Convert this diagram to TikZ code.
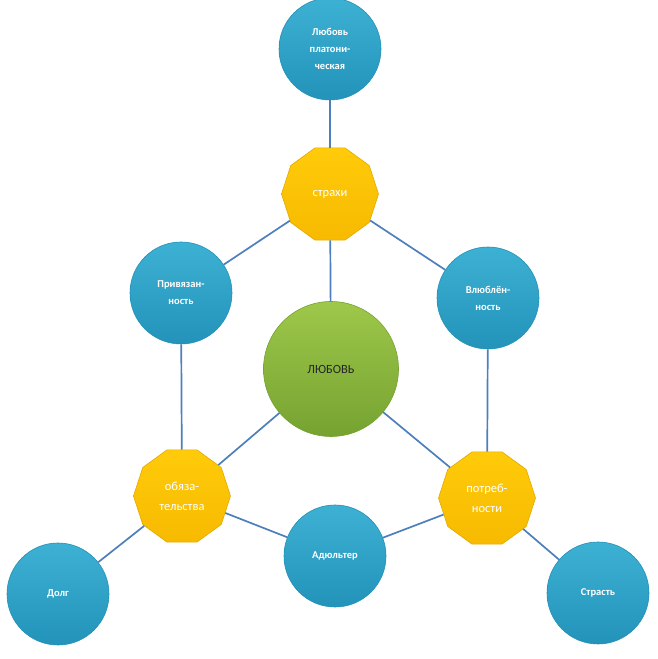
\documentclass[tikz,border=0pt]{standalone}
\usepackage{fontspec}
\setmainfont{Carlito}
\usepackage{tikz}
\usetikzlibrary{positioning,shapes.geometric}

\definecolor{circtop}{HTML}{3DB1D4}
\definecolor{circbot}{HTML}{2393B9}
\definecolor{circrim}{HTML}{2290B5}
\definecolor{dectop}{HTML}{FFCB0A}
\definecolor{decbot}{HTML}{F7BA00}
\definecolor{decrim}{HTML}{E3A900}
\definecolor{lovetop}{HTML}{9DC84A}
\definecolor{lovebot}{HTML}{76A231}
\definecolor{linkblue}{HTML}{4C7FBC}

\tikzset{
    bluecirc/.style={
        circle,
        shade,
        top color=circtop,
        bottom color=circbot,
        draw=circrim,
        line width=0.6pt,
        minimum size=102pt,
        inner sep=0pt,
        align=center,
        text=white,
        font=\fontsize{10.5}{17}\selectfont\bfseries
    },
    yellowdec/.style={
        regular polygon,
        regular polygon sides=10,
        shade,
        top color=dectop,
        bottom color=decbot,
        draw=decrim,
        line width=0.6pt,
        minimum size=97pt,
        inner sep=0pt,
        align=center,
        text=white,
        font=\fontsize{12.5}{20}\selectfont
    },
    lovecirc/.style={
        circle,
        shade,
        top color=lovetop,
        bottom color=lovebot,
        draw=lovebot,
        line width=0.6pt,
        minimum size=135pt,
        inner sep=0pt,
        text=black!85,
        font=\fontsize{12.5}{14}\selectfont
    },
    link/.style={
        draw=linkblue,
        line width=1.7pt
    }
}

\begin{document}
\begin{tikzpicture}[x=1pt,y=1pt]
\useasboundingbox (0,0) rectangle (657,659);

% blue circles
\node[bluecirc] (platon) at (330,610) {Любовь\\платони-\\ческая};
\node[bluecirc] (privyaz) at (181,366) {Привязан-\\ность};
\node[bluecirc] (vlyubl) at (488,361) {Влюблён-\\ность};
\node[bluecirc] (adulter) at (335,103) {Адюльтер};
\node[bluecirc] (dolg) at (58,65) {Долг};
\node[bluecirc] (strast) at (598,66) {Страсть};

% yellow decagons
\node[yellowdec] (strahi) at (330,465) {страхи};
\node[yellowdec] (obyaz) at (182,163) {обяза-\\тельства};
\node[yellowdec] (potreb) at (487,161) {потреб-\\ности};

% centre
\node[lovecirc] (lyubov) at (331,290) {ЛЮБОВЬ};

% connectors
\draw[link] (platon) -- (strahi);
\draw[link] (strahi) -- (privyaz);
\draw[link] (strahi) -- (vlyubl);
\draw[link] (strahi) -- (lyubov);
\draw[link] (privyaz) -- (obyaz);
\draw[link] (vlyubl) -- (potreb);
\draw[link] (lyubov) -- (obyaz);
\draw[link] (lyubov) -- (potreb);
\draw[link] (obyaz) -- (adulter);
\draw[link] (adulter) -- (potreb);
\draw[link] (obyaz) -- (dolg);
\draw[link] (potreb) -- (strast);
\end{tikzpicture}
\end{document}
